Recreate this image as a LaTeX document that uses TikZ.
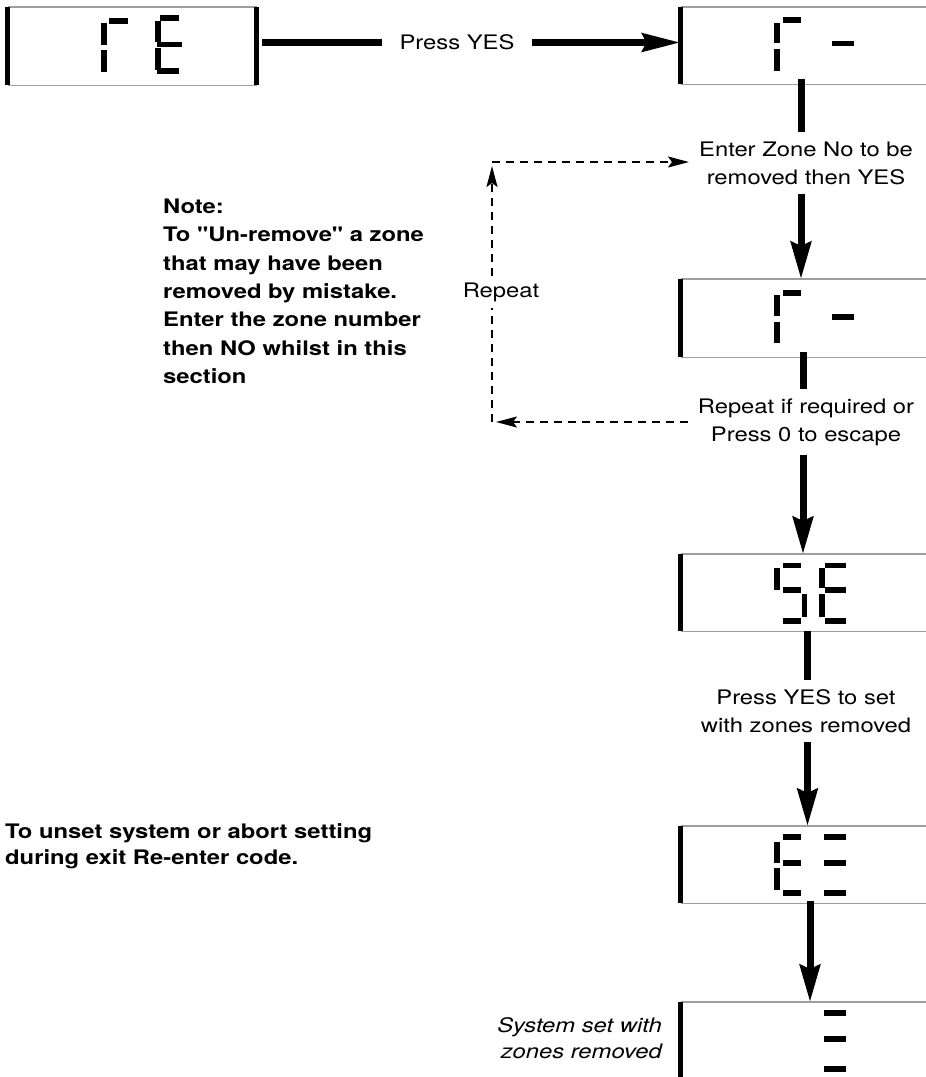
\documentclass[tikz,border=0pt]{standalone}
\usepackage{fontspec}
\setmainfont{TeX Gyre Heros}[FakeStretch=1.19, Ligatures=TeXOff]
\usetikzlibrary{arrows.meta}
\newcommand\dseg[4]{\fill[black] (#1,#2) rectangle (#3,#4);}
\begin{document}
\begin{tikzpicture}[x=1pt,y=-1pt,
  font=\fontsize{20}{28}\selectfont,
  gb/.style={draw=black!38, line width=1.2pt},
  bar/.style={line width=5pt},
  conn/.style={line width=7pt},
  connarr/.style={conn, -{Stealth[length=37pt,width=20pt,inset=4pt]}},
  hconnarr/.style={conn, -{Stealth[length=38pt,width=18pt,inset=4pt]}},
  dline/.style={line width=2pt, dash pattern=on 8pt off 6pt},
  darr/.style={dline, -{Stealth[length=21pt,width=11pt,inset=4pt]}},
  lbl/.style={inner xsep=10pt, inner ysep=9pt, align=center},
  disp/.style={inner sep=0pt, anchor=north west}]
\useasboundingbox (0,0) rectangle (926,1077);

% ---------- displays ----------
\node[disp, minimum width=249pt, minimum height=78pt] (d1) at (7.5,7) {};
\node[disp, minimum width=245.5pt, minimum height=77pt] (d2) at (680.5,7) {};
\node[disp, minimum width=245.5pt, minimum height=78pt] (d3) at (680.5,279) {};
\node[disp, minimum width=245.5pt, minimum height=77pt] (d4) at (680.5,554) {};
\node[disp, minimum width=245.5pt, minimum height=77pt] (d5) at (680.5,826) {};
\node[disp, minimum width=245.5pt, minimum height=82pt] (d6) at (680.5,1002) {};

\draw[gb] (d1.north west) -- (d1.north east) (d1.south west) -- (d1.south east);
\draw[bar] (d1.north west) -- (d1.south west) (d1.north east) -- (d1.south east);
\foreach \d in {d2,d3,d4,d5,d6}{
  \draw[gb] (\d.north west) -- (\d.north east) (\d.south west) -- (\d.south east);
  \draw[bar] (\d.north west) -- (\d.south west);
}

% rE
\dseg{101}{23}{107}{45}\dseg{101}{50}{107}{72}\dseg{109}{18}{128}{24}
\dseg{155}{21}{161}{42}\dseg{155}{48}{161}{70}
\dseg{160}{15}{179}{21}\dseg{157}{42}{182}{47}\dseg{157}{68}{179}{74}
% r-
\dseg{774}{23}{780}{43}\dseg{774}{49}{780}{71}\dseg{783}{17}{801}{23}\dseg{832}{41}{854}{46}
% r- (2)
\dseg{774}{295}{780}{316}\dseg{774}{322}{780}{343}\dseg{783}{290}{801}{296}\dseg{832}{314}{854}{320}
% SE
\dseg{783}{563}{801}{568}\dseg{774}{568}{780}{590}\dseg{783}{587}{801}{593}
\dseg{802}{594}{807}{617}\dseg{783}{618}{801}{624}
\dseg{819}{568}{825}{588}\dseg{819}{594}{825}{617}
\dseg{825}{563}{846}{568}\dseg{825}{587}{846}{593}\dseg{825}{618}{846}{624}
% E=
\dseg{774}{842}{780}{863}\dseg{774}{868}{780}{890}
\dseg{783}{834}{801}{840}\dseg{783}{860}{801}{866}\dseg{783}{890}{801}{896}
\dseg{824}{834}{846}{840}\dseg{824}{860}{846}{866}\dseg{824}{890}{846}{896}
% =
\dseg{824}{1010}{846}{1016}\dseg{824}{1036}{846}{1042}\dseg{824}{1066}{846}{1072}

% ---------- labels ----------
\node[inner xsep=17pt, inner ysep=0pt] (pyes) at (457,42.5) {Press YES};
\node[lbl] (t1) at (806,163) {Enter Zone No to be\\removed then YES};
\node[lbl] (t2) at (806,422) {Repeat if required or\\Press 0 to escape};
\node[lbl] (t3) at (806,711) {Press YES to set\\with zones removed};
\node[inner xsep=0pt, inner ysep=6pt] (rep) at (501,292) {Repeat};
\node[anchor=north west, inner sep=0pt, align=left,
      font=\bfseries\fontsize{20}{28.33}\selectfont] (note) at (163,198.6)
  {Note:\\To "Un-remove" a zone\\that may have been\\removed by mistake.\\Enter the zone number\\then NO whilst in this\\section};
\node[anchor=north west, inner sep=0pt, align=left,
      font=\bfseries\fontsize{20}{26}\selectfont] (unset) at (5,823.5)
  {To unset system or abort setting\\during exit Re-enter code.};
\node[anchor=north east, inner sep=0pt, align=right,
      font=\itshape\fontsize{20}{26}\selectfont] (sys) at (662,1017)
  {System set with\\zones removed};

% ---------- connectors ----------
\coordinate (c1) at (801,0);
\coordinate (c2) at (803,0);
\coordinate (c3) at (807.5,0);
\coordinate (c4) at (810,0);
\draw[conn] ([xshift=5.5pt]d1.east |- pyes.west) -- (pyes.west);
\draw[hconnarr] (pyes.east) -- (pyes.east -| d2.west);
\draw[conn] ([yshift=5pt]d2.south -| c1) -- (t1.north -| c1);
\draw[connarr] (t1.south -| c1) -- (d3.north -| c1);
\draw[conn] ([yshift=5pt]d3.south -| c2) -- (t2.north -| c2);
\draw[connarr] (t2.south -| c2) -- (d4.north -| c2);
\draw[conn] (d4.south -| c3) -- (t3.north -| c3);
\draw[connarr] (t3.south -| c3) -- (d5.north -| c3);
\draw[connarr] ([yshift=2pt]d5.south -| c4) -- (d6.north -| c4);

% dashed repeat loop
\coordinate (cb) at (492,422);
\coordinate (ct) at (492,162);
\draw[darr, shorten >=4pt] (t2.west) -- (t2.west -| cb);
\draw[dline] (cb) -- (rep.south -| cb);
\draw[darr, shorten >=4pt] (rep.north -| cb) -- (ct);
\draw[darr] (ct) -- (ct -| t1.west);
\end{tikzpicture}
\end{document}
